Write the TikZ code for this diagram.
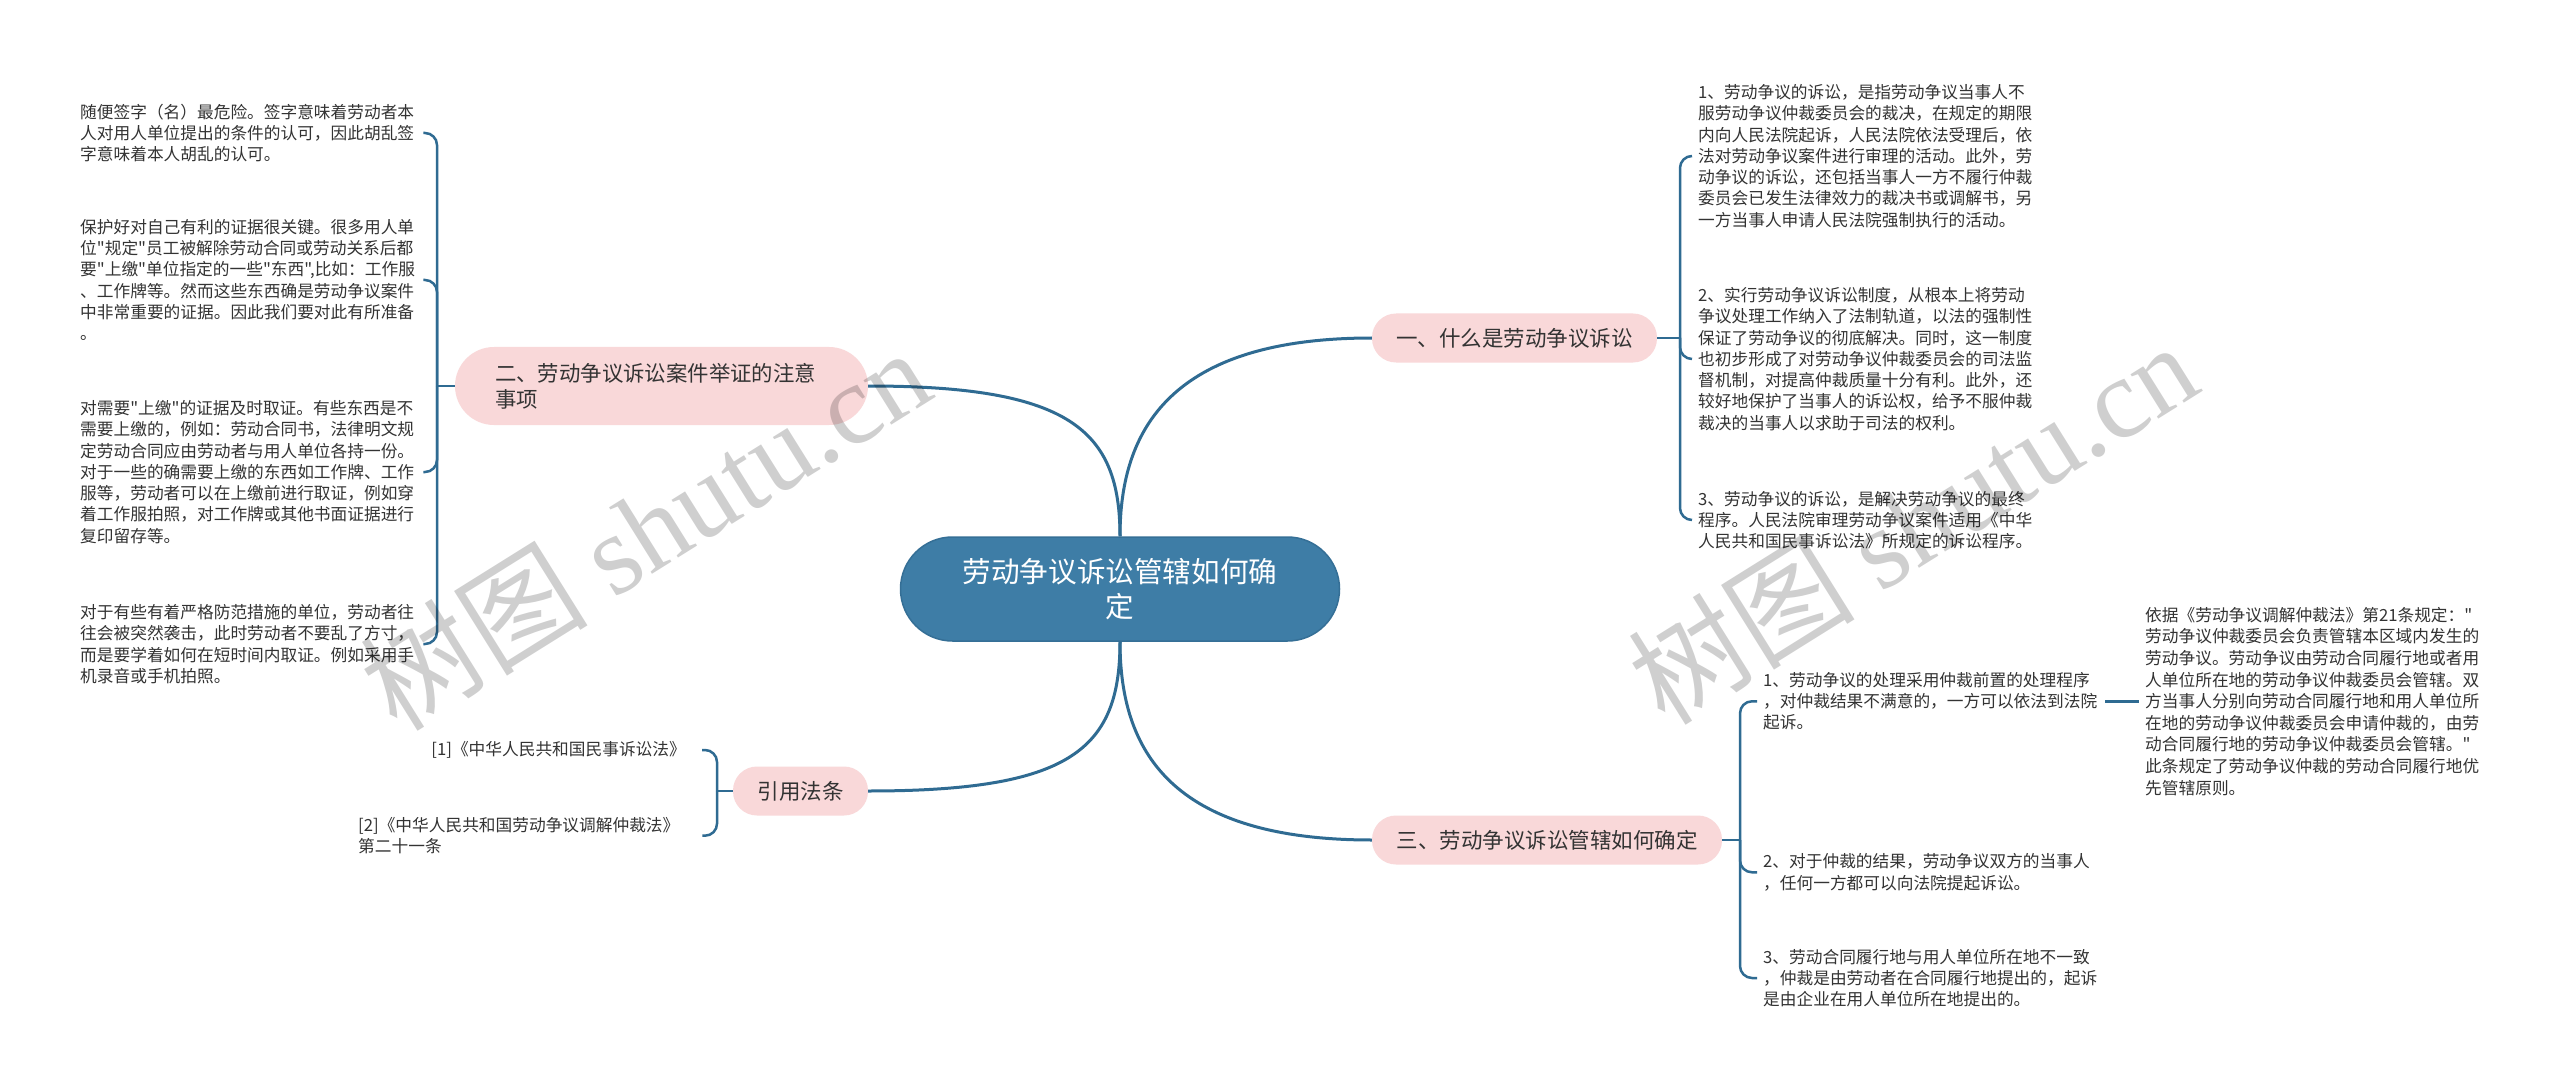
\documentclass[tikz,border=0pt]{standalone}
\usepackage{fontspec}
\setmainfont{Noto Sans CJK SC}[Ligatures=TeXOff]
\newfontfamily\wmserif{Liberation Serif}
\definecolor{linec}{HTML}{2F6B92}
\definecolor{mainc}{HTML}{3E7DA6}
\definecolor{mainb}{HTML}{356F96}
\definecolor{pinkc}{HTML}{F9D8D9}
\definecolor{txtc}{HTML}{333333}
\begin{document}
\begin{tikzpicture}[x=1pt,y=-1pt,
  leaf/.style={inner xsep=6pt, inner ysep=0pt, align=left, text=txtc,
    font=\fontsize{16.7}{21.3}\selectfont, text width=337pt},
  cat/.style={fill=pinkc, rounded corners=24pt, text=txtc,
    font=\fontsize{21.5}{26}\selectfont, minimum height=49pt, inner sep=0pt},
  trunk/.style={draw=linec, line width=2.5pt, rounded corners=12pt},
  mainlink/.style={draw=linec, line width=3pt},
  wm/.style={text=black, text opacity=0.19, rotate=32, inner sep=0pt,
    font=\fontsize{114}{114}\selectfont}]
\fill[white] (0,0) rectangle (2560,1091);
\useasboundingbox (0,0) rectangle (2560,1091);

% main node
\node[fill=mainc, draw=mainb, line width=1.5pt, rounded corners=52pt,
  minimum width=439pt, minimum height=104pt, text=white, align=center,
  font=\fontsize{28.6}{35}\selectfont] (main) at (1120,589)
  {劳动争议诉讼管辖如何确\\定};

% category nodes
\node[cat, minimum width=285pt] (one) at (1514.5,338) {一、什么是劳动争议诉讼};
\node[cat, minimum width=350pt] (three) at (1547,840) {三、劳动争议诉讼管辖如何确定};
\node[cat, minimum width=135pt] (cite) at (800.5,791) {引用法条};
\node[cat, minimum width=413pt, minimum height=78pt, rounded corners=39pt,
  align=left, text width=333pt, inner xsep=40pt,
  font=\fontsize{21.4}{26}\selectfont] (two) at (661.5,386)
  {二、劳动争议诉讼案件举证的注意\\事项};

% main links
\draw[mainlink] (main.north) .. controls (1120,430) and (1170,338) .. (one.west);
\draw[mainlink] (main.north) .. controls (1120,430) and (1070,386) .. (two.east);
\draw[mainlink] (main.south) .. controls (1120,750) and (1170,840) .. (three.west);
\draw[mainlink] (main.south) .. controls (1120,750) and (1070,791) .. (cite.east);

% left leaves (二)
\node[leaf, anchor=west] (l1) at (74,133) {随便签字（名）最危险。签字意味着劳动者本\\人对用人单位提出的条件的认可，因此胡乱签\\字意味着本人胡乱的认可。};
\node[leaf, anchor=west] (l2) at (74,280) {保护好对自己有利的证据很关键。很多用人单\\位"规定"员工被解除劳动合同或劳动关系后都\\要"上缴"单位指定的一些"东西",比如：工作服\\、工作牌等。然而这些东西确是劳动争议案件\\中非常重要的证据。因此我们要对此有所准备\\。};
\node[leaf, anchor=west] (l3) at (74,472) {对需要"上缴"的证据及时取证。有些东西是不\\需要上缴的，例如：劳动合同书，法律明文规\\定劳动合同应由劳动者与用人单位各持一份。\\对于一些的确需要上缴的东西如工作牌、工作\\服等，劳动者可以在上缴前进行取证，例如穿\\着工作服拍照，对工作牌或其他书面证据进行\\复印留存等。};
\node[leaf, anchor=west] (l4) at (74,644) {对于有些有着严格防范措施的单位，劳动者往\\往会被突然袭击，此时劳动者不要乱了方寸，\\而是要学着如何在短时间内取证。例如采用手\\机录音或手机拍照。};

\coordinate (j2) at (437,386);
\draw[trunk] (two.west) -- (j2);
\foreach \c in {l1,l2,l3,l4}
  \draw[trunk] (j2) -- (j2 |- \c.east) -- (\c.east);

% right leaves (一)
\node[leaf, anchor=west] (o1) at (1692,156) {1、劳动争议的诉讼，是指劳动争议当事人不\\服劳动争议仲裁委员会的裁决，在规定的期限\\内向人民法院起诉，人民法院依法受理后，依\\法对劳动争议案件进行审理的活动。此外，劳\\动争议的诉讼，还包括当事人一方不履行仲裁\\委员会已发生法律效力的裁决书或调解书，另\\一方当事人申请人民法院强制执行的活动。};
\node[leaf, anchor=west] (o2) at (1692,359) {2、实行劳动争议诉讼制度，从根本上将劳动\\争议处理工作纳入了法制轨道，以法的强制性\\保证了劳动争议的彻底解决。同时，这一制度\\也初步形成了对劳动争议仲裁委员会的司法监\\督机制，对提高仲裁质量十分有利。此外，还\\较好地保护了当事人的诉讼权，给予不服仲裁\\裁决的当事人以求助于司法的权利。};
\node[leaf, anchor=west] (o3) at (1692,520) {3、劳动争议的诉讼，是解决劳动争议的最终\\程序。人民法院审理劳动争议案件适用《中华\\人民共和国民事诉讼法》所规定的诉讼程序。};

\coordinate (j1) at (1680,338);
\draw[trunk] (one.east) -- (j1);
\foreach \c in {o1,o2,o3}
  \draw[trunk] (j1) -- (j1 |- \c.west) -- (\c.west);

% right leaves (三)
\node[leaf, anchor=west, text width=336pt] (s1) at (1757,701.3) {1、劳动争议的处理采用仲裁前置的处理程序\\，对仲裁结果不满意的，一方可以依法到法院\\起诉。};
\node[leaf, anchor=west, text width=336pt] (s2) at (1757,872.3) {2、对于仲裁的结果，劳动争议双方的当事人\\，任何一方都可以向法院提起诉讼。};
\node[leaf, anchor=west, text width=336pt] (s3) at (1757,978) {3、劳动合同履行地与用人单位所在地不一致\\，仲裁是由劳动者在合同履行地提出的，起诉\\是由企业在用人单位所在地提出的。};
\node[leaf, anchor=west, text width=340pt, font=\fontsize{16.7}{21.6}\selectfont] (deep) at (2139,701.3) {依据《劳动争议调解仲裁法》第21条规定："\\劳动争议仲裁委员会负责管辖本区域内发生的\\劳动争议。劳动争议由劳动合同履行地或者用\\人单位所在地的劳动争议仲裁委员会管辖。双\\方当事人分别向劳动合同履行地和用人单位所\\在地的劳动争议仲裁委员会申请仲裁的，由劳\\动合同履行地的劳动争议仲裁委员会管辖。"\\此条规定了劳动争议仲裁的劳动合同履行地优\\先管辖原则。};

\coordinate (j3) at (1740,840);
\draw[trunk] (three.east) -- (j3);
\foreach \c in {s1,s2,s3}
  \draw[trunk] (j3) -- (j3 |- \c.west) -- (\c.west);
\draw[trunk] (s1.east) -- (deep.west);

% citation leaves
\node[anchor=east, inner xsep=16pt, inner ysep=0pt, text=txtc,
  font=\fontsize{16.7}{21.3}\selectfont] (c1) at (702,750) {[1]《中华人民共和国民事诉讼法》};
\node[leaf, anchor=west, text width=338pt] (c2) at (352,835.7) {[2]《中华人民共和国劳动争议调解仲裁法》\\第二十一条};

\coordinate (j4) at (717,791);
\draw[trunk] (cite.west) -- (j4);
\foreach \c in {c1,c2}
  \draw[trunk] (j4) -- (j4 |- \c.east) -- (\c.east);

% watermarks
\node[wm] (wm1) at (645,528) {树图 {\wmserif shutu.cn}};
\node[wm] (wm2) at (1912,522) {树图 {\wmserif shutu.cn}};
\end{tikzpicture}
\end{document}
